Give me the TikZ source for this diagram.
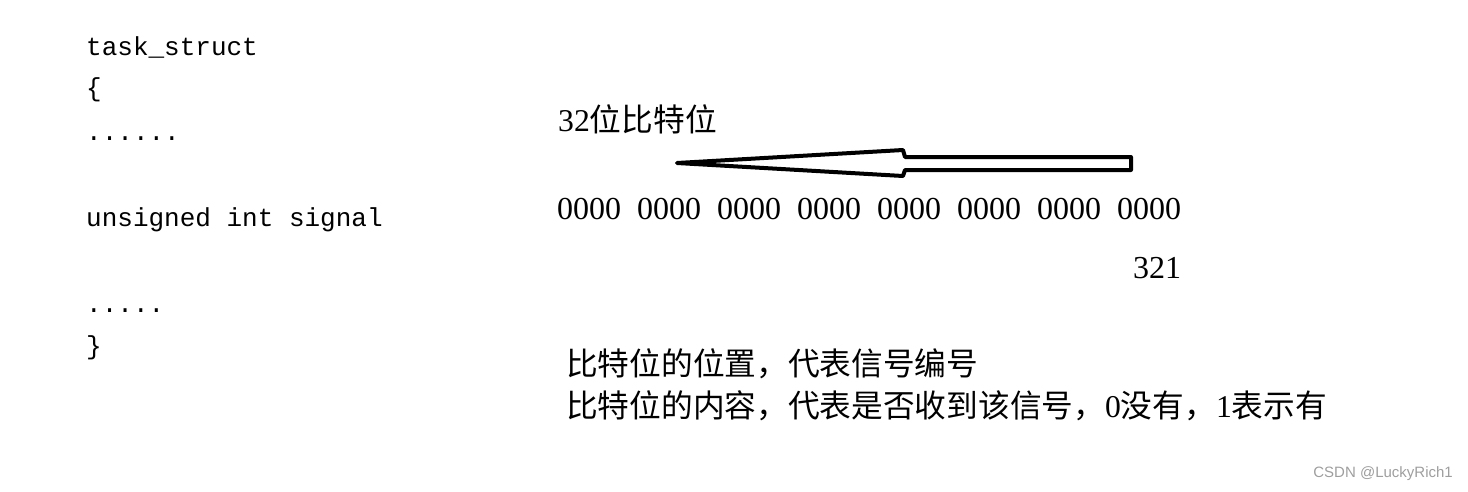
\documentclass[tikz,border=0pt]{standalone}
\usepackage{fontspec}
\setmainfont{Liberation Serif}
\setmonofont{Liberation Mono}
\newfontfamily\cjk{Noto Sans CJK SC}
\newfontfamily\wmfont{Liberation Sans}
\begin{document}
\begin{tikzpicture}[x=1pt,y=-1pt,
  code/.style={anchor=base west,inner sep=0pt,font=\ttfamily\fontsize{26}{30}\selectfont},
  lbl/.style={anchor=base west,inner sep=0pt,font=\fontsize{31.7}{36}\selectfont},
  bits/.style={anchor=base west,inner sep=0pt,font=\fontsize{32}{36}\selectfont},
  blockarrow/.style={draw=black,line width=4pt,line join=round,fill=white}]
\useasboundingbox (0,0) rectangle (1468,491);
% left code
\node[code] (t1) at (86,55) {task\_struct};
\node[code] (t2) at (86,96) {\{};
\node[code] (t3) at (86,140) {......};
\node[code] (t4) at (86,226) {unsigned int signal};
\node[code] (t5) at (86,312) {.....};
\node[code] (t6) at (86,354) {\}};
% right side
\node[lbl] (title) at (558,131) {32{\cjk 位比特位}};
\coordinate (tip) at (677,163);
\coordinate (ht) at (903,150);
\coordinate (st) at (905,157);
\coordinate (rt) at (1131,157);
\coordinate (rb) at (1131,170);
\coordinate (sb) at (905,170);
\coordinate (hb) at (903,176);
\draw[blockarrow] (tip) -- (ht) -- (st) -- (rt) -- (rb) -- (sb) -- (hb) -- cycle;
\node[bits] (bitsrow) at (557,219) {0000\hspace{16pt}0000\hspace{16pt}0000\hspace{16pt}0000\hspace{16pt}0000\hspace{16pt}0000\hspace{16pt}0000\hspace{16pt}0000};
\node[bits] (num) at (1133,278) {321};
\node[lbl] (l1) at (566,375) {\cjk 比特位的位置，代表信号编号};
\node[lbl] (l2) at (566,417) {{\cjk 比特位的内容，代表是否收到该信号，}0{\cjk 没有，}1{\cjk 表示有}};
\node[anchor=east,inner sep=0pt,text=black!38,font=\wmfont\fontsize{15}{18}\selectfont] (wm) at (1453,474) {CSDN @LuckyRich1};
\end{tikzpicture}
\end{document}
